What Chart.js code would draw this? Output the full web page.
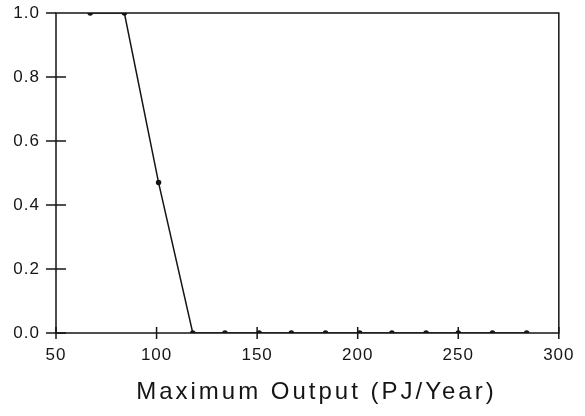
<!DOCTYPE html>
<html lang="en">
<head>
    <meta charset="UTF-8">
    <title>Maximum Output</title>
    <script src="https://cdn.jsdelivr.net/npm/chart.js"></script>
    <style>
        body {
            margin: 0;
            background-color: #fff;
        }
        .chart-box {
            position: relative;
            width: 585px;
            height: 416px;
        }
    </style>
</head>
<body>
    <div class="chart-box">
        <canvas id="outputChart"></canvas>
    </div>
    <script>
        // values
        const outputValues = [67, 84, 101, 118, 134, 151, 167, 184, 201, 217, 234, 250, 267, 284];
        const probValues = [1.0, 1.0, 0.47, 0, 0, 0, 0, 0, 0, 0, 0, 0, 0, 0];
        const xTicks = [50, 100, 150, 200, 250, 300];
        const yTicks = [0, 0.2, 0.4, 0.6, 0.8, 1.0];
        const xTitle = 'Maximum Output (PJ/Year)';

        const ink = '#151515';
        const fontFamily = '"Liberation Sans", Arial, sans-serif';

        // frame, crossing tick marks and the spaced-out axis title
        const framePlugin = {
            id: 'frame',
            beforeDraw(chart) {
                chart.ctx.letterSpacing = '1px';
            },
            afterDraw(chart) {
                const { ctx, chartArea: a, scales } = chart;
                ctx.save();
                ctx.strokeStyle = ink;
                ctx.lineWidth = 1.5;
                ctx.strokeRect(a.left, a.top, a.right - a.left, a.bottom - a.top);

                ctx.beginPath();
                yTicks.forEach(v => {
                    const y = scales.y.getPixelForValue(v);
                    ctx.moveTo(a.left - 10, y);
                    ctx.lineTo(v === 1.0 ? a.left : a.left + 10, y);
                });
                xTicks.forEach(v => {
                    const x = scales.x.getPixelForValue(v);
                    ctx.moveTo(x, a.bottom - 6);
                    ctx.lineTo(x, a.bottom + 6);
                });
                ctx.stroke();

                ctx.letterSpacing = '3px';
                ctx.fillStyle = ink;
                ctx.font = '24px ' + fontFamily;
                ctx.textAlign = 'center';
                ctx.textBaseline = 'middle';
                ctx.fillText(xTitle, (a.left + a.right) / 2 + 9, 392);
                ctx.restore();
            }
        };

        new Chart(document.getElementById('outputChart'), {
            type: 'line',
            data: {
                datasets: [{
                    data: outputValues.map((x, i) => ({ x: x, y: probValues[i] })),
                    borderColor: ink,
                    borderWidth: 1.5,
                    backgroundColor: ink,
                    pointRadius: 2,
                    pointHoverRadius: 2,
                    tension: 0
                }]
            },
            options: {
                responsive: true,
                maintainAspectRatio: false,
                animation: false,
                events: [],
                layout: {
                    padding: { left: 0, right: 24, top: 0, bottom: 0 }
                },
                plugins: {
                    legend: { display: false },
                    tooltip: { enabled: false }
                },
                scales: {
                    x: {
                        type: 'linear',
                        min: 50,
                        max: 300,
                        afterBuildTicks: scale => {
                            scale.ticks = xTicks.map(v => ({ value: v }));
                        },
                        afterFit: scale => { scale.height = 83; },
                        grid: { display: false, drawTicks: false },
                        border: { display: false },
                        ticks: {
                            color: ink,
                            padding: 12,
                            maxRotation: 0,
                            font: { family: fontFamily, size: 17 }
                        }
                    },
                    y: {
                        type: 'linear',
                        min: 0,
                        max: 1,
                        afterBuildTicks: scale => {
                            scale.ticks = yTicks.map(v => ({ value: v }));
                        },
                        afterFit: scale => {
                            scale.width = 56;
                            scale.paddingTop = 13;
                            scale.paddingBottom = 0;
                        },
                        grid: { display: false, drawTicks: false },
                        border: { display: false },
                        ticks: {
                            color: ink,
                            padding: 16,
                            font: { family: fontFamily, size: 17 },
                            callback: v => v.toFixed(1)
                        }
                    }
                }
            },
            plugins: [framePlugin]
        });
    </script>
</body>
</html>
